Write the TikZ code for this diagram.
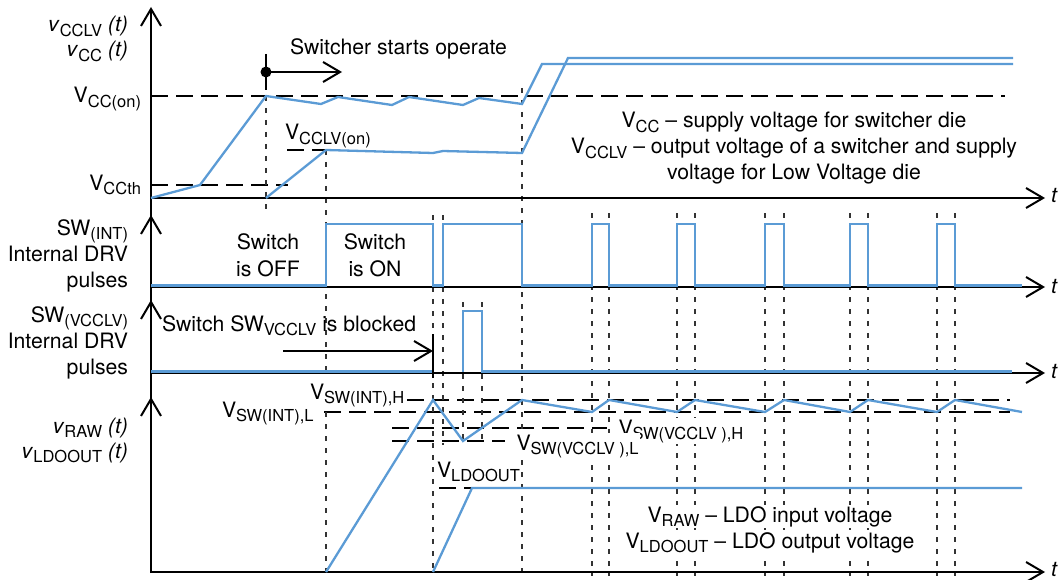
\documentclass[tikz,border=0pt]{standalone}
\usepackage{fontspec}
\setmainfont{TeX Gyre Heros}
\usetikzlibrary{arrows.meta}
\definecolor{wblue}{RGB}{91,155,213}
\newcommand{\sbs}[1]{\raisebox{-4.3pt}{\fontsize{16.5}{16.5}\selectfont #1}}
\begin{document}
\begin{tikzpicture}[x=1pt,y=-1pt,
  every node/.style={inner sep=0pt, outer sep=0pt, font=\fontsize{21.2}{26}\selectfont},
  wbg/.style={fill=white, inner sep=1.5pt},
  tip/.style={-{Straight Barb[length=17pt,width=20pt,line width=2pt]}},
  axis/.style={line width=2.6pt, tip},
  sig/.style={wblue, line width=2.3pt, line join=miter},
  lvl/.style={black, line width=1.1pt, dash pattern=on 17pt off 8pt},
  tmark/.style={black!80, line width=1.2pt, dash pattern=on 5pt off 7pt},
  marker/.style={line width=2pt}
]
\useasboundingbox (0,0) rectangle (1062,580);

% ---------- level (long dashed) lines ----------
\draw[lvl] (151,96) -- (1005,96);
\draw[lvl] (151,185) -- (288,185);
\draw[lvl] (287,150) -- (326,150);
\draw[lvl] (407,400) -- (1010,400);
\draw[lvl] (324,412) -- (1010,412);
\draw[lvl] (392,428) -- (607,428);
\draw[lvl] (392,441) -- (505,441);
\draw[lvl] (439,488) -- (472,488);

% ---------- time markers (short dashed) ----------
\draw[tmark] (266,96) -- (266,210);
\draw[tmark] (326,150) -- (326,375);
\draw[tmark] (326,412) -- (326,572);
\draw[tmark] (433,215) -- (433,572);
\draw[tmark] (443,215) -- (443,445);
\draw[tmark] (463,302) -- (463,441);
\draw[tmark] (482,302) -- (482,441);
\draw[tmark] (522,88) -- (522,576);
\foreach \xx in {592,609,677,695,765,784,850,868,937,955}
  \draw[tmark] (\xx,213) -- (\xx,576);

% ---------- axes ----------
\coordinate (Y0) at (151,573);
\coordinate (Y1) at (151,7);
\draw[axis] (Y0) -- (Y1);
\draw[axis] (151,287) -- (151,215);
\draw[axis] (151,373) -- (151,300);
\draw[axis] (151,572) -- (151,397);
\draw[axis] (150,198) -- (1045,198);
\draw[axis] (150,287) -- (1045,287);
\draw[axis] (150,373) -- (1045,373);
\draw[axis] (150,572) -- (1045,572);
\node[anchor=west] (t1) at (1051,195) {\textit{t}};
\node[anchor=west] (t2) at (1051,286) {\textit{t}};
\node[anchor=west] (t3) at (1051,371) {\textit{t}};
\node[anchor=west] (t4) at (1051,569) {\textit{t}};

% ---------- signals ----------
\draw[sig] (151,198) -- (200,185) -- (266,96) -- (321,104) -- (338,97) -- (392,105) -- (409,97)
  -- (463,105) -- (479,98) -- (522,104) -- (542,64) -- (1013,64);
\draw[sig] (266,198) -- (326,150) -- (433,153) -- (443,151) -- (522,153) -- (568,58) -- (1013,58);

\draw[sig] (151,285.5) -- (326,285.5) -- (326,224) -- (433,224) -- (433,285.5) -- (443,285.5)
  -- (443,224) -- (522,224) -- (522,285.5) -- (592,285.5) -- (592,224) -- (609,224) -- (609,285.5)
  -- (677,285.5) -- (677,224) -- (695,224) -- (695,285.5) -- (765,285.5) -- (765,224) -- (784,224)
  -- (784,285.5) -- (850,285.5) -- (850,224) -- (868,224) -- (868,285.5) -- (937,285.5)
  -- (937,224) -- (955,224) -- (955,285.5) -- (1022,285.5);

\draw[sig] (151,371.5) -- (433,371.5);
\draw[sig] (463,371.5) -- (463,311) -- (482,311) -- (482,371.5) -- (1012,371.5);

\draw[sig] (326,572) -- (433,400) -- (463,441) -- (522,400) -- (592,412) -- (609,400) -- (677,412)
  -- (695,400) -- (765,412) -- (784,400) -- (850,412) -- (868,400) -- (937,412) -- (955,400) -- (1022,412);
\draw[sig] (433,572) -- (472,488) -- (1022,488);

% ---------- markers ----------
\draw[marker] (266,54) -- (266,90);
\coordinate (dot) at (266,72);
\coordinate (dotend) at (342,72);
\fill (dot) circle (5.5pt);
\draw[marker, tip] (dot) -- (dotend);
\coordinate (blk0) at (283,351);
\coordinate (blk1) at (433,351);
\draw[marker, tip] (blk0) -- (blk1);
\draw[marker] (433,334) -- (433,378);

% ---------- labels: top panel ----------
\node[anchor=base east] (lv1) at (128,32) {\textit{v}\sbs{CCLV} \textit{(t)}};
\node[anchor=base east] (lv2) at (128,57) {\textit{v}\sbs{CC} \textit{(t)}};
\node[anchor=base east] (lvon) at (141,103) {V\sbs{CC(on)}};
\node[anchor=base east] (lvth) at (141,190) {V\sbs{CCth}};
\node[anchor=base west] (sso) at (290,55) {Switcher starts operate};
\node[anchor=base west] (lvlv) at (285,140) {V\sbs{CCLV(on)}};
\node[anchor=base] (r1) at (794,128) {V\sbs{CC} -- supply voltage for switcher die};
\node[anchor=base] (r2) at (794,154) {V\sbs{CCLV} -- output voltage of a switcher and supply};
\node[anchor=base] (r3) at (794,180) {voltage for Low Voltage die};

% ---------- labels: SW(INT) ----------
\node[anchor=base east] (s1) at (128,235) {SW\sbs{(INT)}};
\node[anchor=base east] (s2) at (128,261) {Internal DRV};
\node[anchor=base east] (s3) at (128,287) {pulses};
\node[anchor=base] (off1) at (268,249) {Switch};
\node[anchor=base] (off2) at (268,276) {is OFF};
\node[anchor=base] (on1) at (375,249) {Switch};
\node[anchor=base] (on2) at (375,276) {is ON};

% ---------- labels: SW(VCCLV) ----------
\node[anchor=base east] (w1) at (128,322) {SW\sbs{(VCCLV)}};
\node[anchor=base east] (w2) at (128,348) {Internal DRV};
\node[anchor=base east] (w3) at (128,374) {pulses};
\node[anchor=base west] (blk) at (162,331) {Switch SW\sbs{VCCLV} is blocked};

% ---------- labels: bottom panel ----------
\node[anchor=base east] (b1) at (128,433) {\textit{v}\sbs{RAW} \textit{(t)}};
\node[anchor=base east] (b2) at (128,458) {\textit{v}\sbs{LDOOUT} \textit{(t)}};
\node[anchor=base west] (swh) at (310,399) {V\sbs{SW(INT),H}};
\node[anchor=base west] (swl) at (222,417) {V\sbs{SW(INT),L}};
\node[anchor=base west, wbg] (svh) at (617,435) {V\sbs{SW(VCCLV ),H}};
\node[anchor=base west, wbg] (svl) at (515,450) {V\sbs{SW(VCCLV ),L}};
\node[anchor=base west] (ldo) at (437,477) {V\sbs{LDOOUT}};
\node[anchor=base, wbg] (q1) at (770,522) {V\sbs{RAW} -- LDO input voltage};
\node[anchor=base, wbg] (q2) at (770,548) {V\sbs{LDOOUT} -- LDO output voltage};
\end{tikzpicture}
\end{document}
